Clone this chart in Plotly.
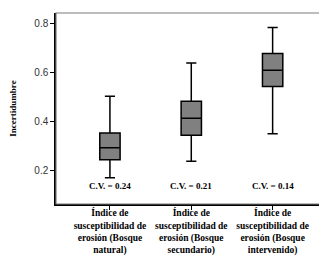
import plotly.graph_objects as go

categories = ["Índice de<br>susceptibilidad de<br>erosión (Bosque<br>natural)",
              "Índice de<br>susceptibilidad de<br>erosión (Bosque<br>secundario)",
              "Índice de<br>susceptibilidad de<br>erosión (Bosque<br>intervenido)"]
lower_whisker = [0.171, 0.238, 0.350]
q1 = [0.244, 0.344, 0.542]
median = [0.293, 0.413, 0.608]
q3 = [0.353, 0.482, 0.676]
upper_whisker = [0.502, 0.638, 0.782]
cv_labels = ["C.V. = 0.24", "C.V. = 0.21", "C.V. = 0.14"]
cv_y = 0.138

serif = "Liberation Serif, Times New Roman, serif"

fig = go.Figure()
fig.add_trace(go.Box(
    x=categories, q1=q1, median=median, q3=q3,
    lowerfence=lower_whisker, upperfence=upper_whisker,
    fillcolor="#808080", line=dict(color="black", width=1.5),
    width=0.25, whiskerwidth=0.5, boxpoints=False, showlegend=False,
    hoverinfo="skip"))

for c, t in zip(categories, cv_labels):
    fig.add_annotation(x=c, y=cv_y, text=t, showarrow=False, xref="x", yref="y",
                       font=dict(family=serif, size=9, color="black", weight="bold"))

fig.add_shape(type="rect", xref="paper", yref="paper", x0=0, y0=0, x1=1, y1=1,
              line=dict(color="#7a7a7a", width=1.2), layer="above")

fig.update_layout(
    width=327, height=256,
    margin=dict(l=48, r=9, t=5, b=60),
    paper_bgcolor="white", plot_bgcolor="white",
    xaxis=dict(range=[-0.663, 2.656], showline=True, linecolor="black", linewidth=1.5,
               ticks="outside", ticklen=4, tickcolor="black", showgrid=False,
               ticklabelstandoff=-5,
               tickfont=dict(family=serif, size=9.5, color="black", weight="bold")),
    yaxis=dict(range=[0.064, 0.841], showline=True, linecolor="black", linewidth=1.5,
               ticks="outside", ticklen=4, tickcolor="black", showgrid=False,
               tickvals=[0.2, 0.4, 0.6, 0.8], ticktext=["0.2", "0.4", "0.6", "0.8"],
               tickfont=dict(family="Liberation Sans, Arial, sans-serif", size=10, color="#333333"),
               zeroline=False,
               title=dict(text="Incertidumbre", standoff=16,
                          font=dict(family=serif, size=9, color="black", weight="bold"))),
)

fig.write_html("out.html")
